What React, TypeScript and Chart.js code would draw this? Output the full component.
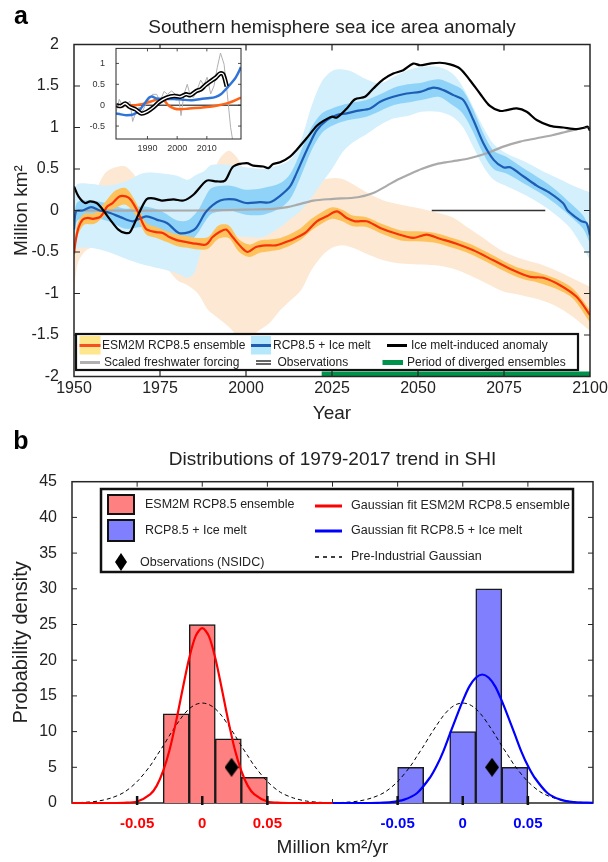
import React, { useEffect, useRef } from "react";
import { Chart, registerables } from "chart.js";
Chart.register(...registerables);

const FONT = '"Liberation Sans", Arial, sans-serif';
const TEXT = "#222";
const AXIS = "#262626";

// ---------------- Panel a data ----------------
const aXTicks = [1950, 1975, 2000, 2025, 2050, 2075, 2100];
const aYTicks = [-2, -1.5, -1, -0.5, 0, 0.5, 1, 1.5, 2];

// ESM2M RCP8.5 ensemble bands
const redBandYears = [1950, 1951, 1953, 1956, 1959, 1962, 1965, 1968, 1971, 1974, 1977, 1980, 1983, 1986, 1989, 1992, 1995, 1998, 2001, 2004, 2007, 2010, 2013, 2016, 2019, 2022, 2025, 2028, 2031, 2035, 2040, 2045, 2050, 2055, 2060, 2065, 2070, 2075, 2080, 2085, 2090, 2095, 2100];
const redOuterLo = [-1.0, -0.65, -0.5, -0.42, -0.3, -0.2, -0.2, -0.35, -0.5, -0.6, -0.7, -0.84, -0.9, -1.0, -1.2, -1.3, -1.4, -1.52, -1.52, -1.44, -1.35, -1.2, -1.08, -0.96, -0.72, -0.55, -0.45, -0.42, -0.45, -0.52, -0.6, -0.64, -0.65, -0.66, -0.7, -0.78, -0.88, -0.98, -1.02, -1.07, -1.15, -1.28, -1.45];
const redOuterHi = [-0.3, -0.1, 0.05, 0.22, 0.45, 0.52, 0.53, 0.4, 0.1, 0.0, -0.05, -0.1, -0.1, 0.05, 0.3, 0.6, 0.72, 0.6, 0.3, 0.15, 0.1, 0.1, 0.12, 0.2, 0.33, 0.37, 0.39, 0.38, 0.32, 0.22, 0.12, 0.07, 0.03, -0.02, -0.08, -0.22, -0.36, -0.5, -0.58, -0.64, -0.72, -0.82, -0.92];
const redInnerLo = [-0.6, -0.32, -0.17, -0.16, -0.06, 0.03, 0.07, -0.06, -0.29, -0.33, -0.38, -0.43, -0.45, -0.47, -0.46, -0.34, -0.33, -0.5, -0.56, -0.51, -0.49, -0.47, -0.42, -0.35, -0.24, -0.16, -0.1, -0.13, -0.19, -0.2, -0.29, -0.36, -0.37, -0.39, -0.45, -0.52, -0.62, -0.73, -0.82, -0.87, -0.94, -1.06, -1.35];
const redInnerHi = [-0.44, -0.16, -0.04, -0.03, 0.1, 0.24, 0.27, 0.1, -0.15, -0.2, -0.25, -0.29, -0.31, -0.33, -0.32, -0.18, -0.18, -0.35, -0.41, -0.36, -0.35, -0.33, -0.28, -0.21, -0.1, -0.02, 0.04, 0.01, -0.06, -0.08, -0.17, -0.24, -0.25, -0.27, -0.33, -0.4, -0.5, -0.61, -0.7, -0.75, -0.82, -0.94, -1.2];

// ESM2M RCP8.5 ensemble mean
const redYears = [1950, 1950.5, 1951.3, 1952.5, 1954, 1955.5, 1957.8, 1959.7, 1961.2, 1963.2, 1965.1, 1966.5, 1968.5, 1970.9, 1973.8, 1975.8, 1977.7, 1980.1, 1982.6, 1985.5, 1988.4, 1990.3, 1992.3, 1994.2, 1996.1, 1998.6, 2000.5, 2002.9, 2005.8, 2008.7, 2011.6, 2014.5, 2017.5, 2020.6, 2023.5, 2026.4, 2029.3, 2031.7, 2035.1, 2039, 2043.8, 2048.6, 2052.5, 2056.4, 2061.2, 2066.1, 2071.9, 2077.7, 2082.6, 2086.4, 2091.3, 2096.1, 2100];
const redMean = [-0.52, -0.36, -0.21, -0.11, -0.09, -0.1, -0.07, 0.05, 0.09, 0.17, 0.17, 0.13, -0.01, -0.22, -0.26, -0.27, -0.32, -0.36, -0.38, -0.4, -0.41, -0.32, -0.26, -0.23, -0.32, -0.44, -0.5, -0.44, -0.42, -0.42, -0.38, -0.33, -0.26, -0.13, -0.07, -0.01, -0.09, -0.13, -0.13, -0.21, -0.28, -0.33, -0.29, -0.34, -0.4, -0.48, -0.6, -0.72, -0.8, -0.81, -0.9, -1.04, -1.26];

// RCP8.5 + Ice melt bands
const blueBandYears = [1950, 1951, 1955, 1960, 1965, 1970, 1975, 1980, 1983, 1985, 1986.5, 1988, 1990, 1995, 2000, 2005, 2010, 2013, 2016, 2019, 2022, 2025, 2028, 2031, 2035, 2039, 2043, 2047, 2051, 2056, 2060, 2063, 2066, 2069, 2072, 2076, 2081, 2086, 2090, 2094, 2098, 2100];
const blueOuterLo = [-0.45, -0.45, -0.45, -0.5, -0.58, -0.65, -0.7, -0.76, -0.81, -0.75, -0.55, -0.35, -0.3, -0.3, -0.32, -0.32, -0.2, -0.1, 0.0, 0.15, 0.33, 0.5, 0.7, 0.82, 0.92, 1.03, 1.11, 1.14, 1.19, 1.19, 1.13, 1.01, 0.77, 0.53, 0.37, 0.29, 0.19, 0.07, -0.05, -0.2, -0.45, -0.6];
const blueOuterHi = [0.2, 0.32, 0.32, 0.3, 0.35, 0.45, 0.45, 0.42, 0.37, 0.42, 0.45, 0.48, 0.55, 0.55, 0.52, 0.5, 0.55, 0.62, 0.85, 1.25, 1.55, 1.68, 1.7, 1.67, 1.58, 1.53, 1.61, 1.69, 1.73, 1.73, 1.65, 1.49, 1.25, 1.0, 0.8, 0.68, 0.59, 0.48, 0.4, 0.32, 0.25, 0.22];
const blueInnerLo = [-0.35, -0.12, -0.08, -0.13, -0.22, -0.2, -0.25, -0.38, -0.37, -0.32, -0.24, -0.14, -0.04, 0.0, -0.05, -0.05, 0.03, 0.15, 0.42, 0.72, 0.93, 1.02, 1.07, 1.1, 1.13, 1.2, 1.27, 1.3, 1.33, 1.37, 1.27, 1.17, 0.95, 0.68, 0.5, 0.44, 0.32, 0.2, 0.08, -0.06, -0.22, -0.4];
const blueInnerHi = [-0.1, 0.1, 0.12, 0.08, 0.02, 0.05, 0.0, -0.12, -0.12, -0.05, 0.03, 0.15, 0.27, 0.3, 0.25, 0.27, 0.33, 0.45, 0.72, 1.0, 1.17, 1.23, 1.27, 1.3, 1.33, 1.4, 1.48, 1.52, 1.54, 1.58, 1.52, 1.45, 1.22, 0.93, 0.72, 0.64, 0.5, 0.37, 0.25, 0.1, -0.06, -0.22];

// RCP8.5 + Ice melt mean
const blueYears = [1950, 1950.6, 1952.5, 1955, 1957.5, 1960.5, 1963.5, 1967, 1971, 1974, 1977, 1980.5, 1983.5, 1985.5, 1988.5, 1992.5, 1996.5, 2000, 2004, 2007, 2010, 2012.8, 2014.7, 2016.6, 2018.6, 2020.6, 2023.5, 2026.4, 2029.3, 2032.2, 2036.1, 2039, 2042.8, 2046.7, 2050.6, 2054.5, 2057.4, 2060.3, 2063.2, 2066.1, 2069, 2072, 2074.8, 2076.8, 2080.7, 2084.5, 2088.4, 2092.2, 2093.5, 2096.1, 2097.5, 2099, 2100];
const blueMean = [-0.23, -0.01, 0.0, 0.04, 0.0, -0.03, -0.08, -0.13, -0.07, -0.11, -0.15, -0.27, -0.26, -0.21, -0.01, 0.12, 0.135, 0.09, 0.1, 0.1, 0.18, 0.29, 0.45, 0.63, 0.81, 0.97, 1.09, 1.15, 1.17, 1.2, 1.23, 1.31, 1.37, 1.41, 1.43, 1.48, 1.45, 1.39, 1.33, 1.09, 0.81, 0.61, 0.52, 0.52, 0.41, 0.3, 0.21, 0.087, 0.0, -0.09, -0.13, -0.15, -0.3];

// Ice melt-induced anomaly
const blackYears = [1950, 1951.3, 1953.2, 1954.7, 1956.6, 1958, 1960.5, 1962.9, 1964.8, 1966.3, 1968.7, 1971.1, 1973, 1975.5, 1978.9, 1981.8, 1984.7, 1988.6, 1991.5, 1993.9, 1996.3, 2000.2, 2002.1, 2005, 2006.5, 2007.9, 2009.9, 2012.8, 2014.7, 2017.6, 2020.6, 2022.5, 2024.9, 2026.4, 2029.3, 2031.7, 2034.6, 2037, 2039.9, 2042.8, 2045.7, 2048.6, 2050.6, 2053.5, 2056.4, 2059.3, 2062.2, 2065.1, 2068, 2070.9, 2073.8, 2075.8, 2078.7, 2081.6, 2084.5, 2088.4, 2092.2, 2096.1, 2098.5, 2099.3, 2100];
const blackVals = [0.29, 0.17, 0.09, 0.11, 0.09, 0.03, -0.11, -0.23, -0.27, -0.26, -0.05, 0.135, 0.147, 0.12, 0.135, 0.12, 0.19, 0.36, 0.35, 0.36, 0.53, 0.57, 0.54, 0.53, 0.51, 0.56, 0.58, 0.65, 0.73, 0.87, 1.02, 1.08, 1.13, 1.12, 1.23, 1.34, 1.37, 1.47, 1.58, 1.65, 1.69, 1.77, 1.75, 1.77, 1.78, 1.76, 1.71, 1.57, 1.41, 1.26, 1.2, 1.21, 1.23, 1.19, 1.09, 1.02, 1.0, 0.98, 1.0, 1.01, 0.96];

// Scaled freshwater forcing
const greyYears = [1950, 1985, 1995, 2000, 2008, 2012, 2015, 2019.6, 2025.4, 2032.5, 2037, 2041, 2044, 2047.7, 2051, 2054.5, 2058, 2061.2, 2065, 2070, 2074.8, 2079.7, 2084.5, 2089.3, 2094.2, 2099, 2100];
const greyVals = [0, 0, 0.005, 0.01, 0.02, 0.04, 0.07, 0.12, 0.14, 0.16, 0.21, 0.3, 0.37, 0.44, 0.5, 0.55, 0.58, 0.6, 0.63, 0.69, 0.77, 0.83, 0.87, 0.91, 0.96, 1.0, 1.0];

const zeroSegYears = [2054, 2087];
const zeroSegVals = [0, 0];
const divergedYears = [2022, 2100];
const divergedLevel = [-1.97, -1.97];

// ---------------- Inset data ----------------
const insetXTicks = [1990, 2000, 2010];
const insetYTicks = [-0.5, 0, 0.5, 1];
const insetRcpYears = [1979.4, 1983, 1986, 1988, 1990, 1992, 1994, 1995.5, 1997, 1999, 2001, 2004, 2008, 2011, 2014, 2017, 2019, 2021.5];
const insetRcpVals = [0, 0, 0, 0.02, 0.06, 0.11, 0.14, 0.12, 0.0, -0.08, -0.1, -0.08, -0.06, -0.04, 0.0, 0.05, 0.1, 0.18];
const insetIceYears = [1979.4, 1981, 1983, 1985.3, 1987.5, 1989.2, 1990.5, 1991.5, 1993, 1996, 1999, 2002, 2005, 2008, 2011, 2013, 2014.7, 2016.9, 2019.7, 2021.5];
const insetIceVals = [-0.2, -0.22, -0.24, -0.22, -0.1, 0.06, 0.18, 0.21, 0.16, 0.15, 0.15, 0.13, 0.12, 0.15, 0.17, 0.2, 0.26, 0.42, 0.66, 0.91];
const insetObsYears = [1979.4, 1980.5, 1981.9, 1983, 1984.1, 1985, 1986.1, 1987.2, 1988.4, 1989.5, 1990.6, 1991.7, 1993.1, 1994.2, 1995.6, 1996.7, 1998.1, 1999.3, 2000.4, 2001.3, 2002.3, 2003.4, 2004.3, 2005.4, 2006.6, 2007.9, 2009, 2010.1, 2011.3, 2012.4, 2013.5, 2014.6, 2015.8, 2016.9, 2018, 2018.9];
const insetObsVals = [-0.17, 0.14, -0.06, 0.04, 0.09, -0.39, -0.17, -0.04, -0.14, 0.04, 0.14, 0.26, 0.26, 0.09, 0.33, 0.26, 0.34, 0.27, 0.26, -0.25, 0.26, 0.5, 0.26, 0.18, 0.34, 0.6, 0.48, 0.67, 0.27, 0.46, 0.9, 1.25, 0.98, 0.26, -0.53, -0.93];
const insetSmoothYears = [1979.5, 1981, 1982.5, 1984, 1986, 1988, 1990, 1992, 1994, 1996.5, 1999, 2001, 2003, 2004.5, 2006.5, 2008, 2009.5, 2011, 2013, 2014.5, 2015.5, 2016.7];
const insetSmoothVals = [0.0, -0.02, 0.04, -0.04, -0.1, -0.2, -0.15, -0.05, 0.08, 0.18, 0.22, 0.2, 0.26, 0.24, 0.34, 0.38, 0.48, 0.56, 0.66, 0.76, 0.74, 0.45];

// ---------------- Panel b data ----------------
const bYTicks = [0, 5, 10, 15, 20, 25, 30, 35, 40, 45];
const bXTickLabels = [-0.05, 0, 0.05];
const bBinCenters = [-0.04, -0.02, 0, 0.02, 0.04];
const bEsmHist = [0, 12.5, 25, 9, 3.6];
const bIceHist = [5, 0, 10, 30, 5];
const bEsmFitX = [-0.1, -0.08, -0.06, -0.05, -0.04, -0.035, -0.03, -0.025, -0.02, -0.015, -0.01, -0.005, 0, 0.005, 0.01, 0.015, 0.02, 0.025, 0.03, 0.035, 0.04, 0.05, 0.06, 0.08, 0.1];
const bEsmFitY = [0, 0, 0.03, 0.2, 1.2, 2.4, 4.5, 7.5, 11.5, 16.0, 20.3, 23.4, 24.5, 23.4, 20.3, 16.0, 11.5, 7.5, 4.5, 2.4, 1.2, 0.2, 0.03, 0, 0];
const bIceFitX = [-0.1, -0.08, -0.065, -0.055, -0.045, -0.035, -0.025, -0.02, -0.015, -0.01, -0.005, 0, 0.005, 0.01, 0.015, 0.02, 0.025, 0.03, 0.035, 0.04, 0.045, 0.05, 0.055, 0.065, 0.075, 0.085, 0.1];
const bIceFitY = [0, 0, 0.03, 0.12, 0.47, 1.4, 3.6, 5.2, 7.2, 9.6, 12.0, 14.3, 16.3, 17.55, 18, 17.55, 16.3, 14.3, 12.0, 9.6, 7.2, 5.2, 3.6, 1.4, 0.47, 0.12, 0.02];
const bPiX = [-0.1, -0.09, -0.08, -0.07, -0.06, -0.05, -0.04, -0.035, -0.03, -0.025, -0.02, -0.015, -0.01, -0.005, 0, 0.005, 0.01, 0.015, 0.02, 0.025, 0.03, 0.035, 0.04, 0.05, 0.06, 0.07, 0.08, 0.09, 0.1];
const bPiY = [0.03, 0.1, 0.27, 0.7, 1.5, 3.0, 5.2, 6.6, 8.0, 9.5, 10.9, 12.2, 13.2, 13.8, 14, 13.8, 13.2, 12.2, 10.9, 9.5, 8.0, 6.6, 5.2, 3.0, 1.5, 0.7, 0.27, 0.1, 0.03];
const bObsTrend = 0.0225;
const bObsMarkerLevel = 5;

// left half of panel b shows [-0.1, 0.1] at axis units [0, 0.2]; right half at [0.2, 0.4]
const LEFT = 0.1;
const RIGHT = 0.3;

const pts = (xs: number[], ys: number[], shift = 0) => xs.map((x, i) => ({ x: x + shift, y: ys[i] }));

function bandPair(xs: number[], lo: number[], hi: number[], color: string, order: number) {
  return [
    { data: pts(xs, lo), borderColor: "rgba(0,0,0,0)", borderWidth: 0, fill: false, order, tension: 0.3 },
    { data: pts(xs, hi), borderColor: "rgba(0,0,0,0)", borderWidth: 0, backgroundColor: color, fill: "-1", order, tension: 0.3 },
  ];
}

function drawBox(ctx: CanvasRenderingContext2D, chart: any, lw: number) {
  const { left, right, top, bottom } = chart.chartArea;
  ctx.save();
  ctx.strokeStyle = AXIS;
  ctx.lineWidth = lw;
  ctx.strokeRect(left, top, right - left, bottom - top);
  ctx.restore();
}

function inwardTicks(ctx: CanvasRenderingContext2D, chart: any, xs: number[], ys: number[], len: number, lw: number) {
  const { left, right, top, bottom } = chart.chartArea;
  const sx = chart.scales.x, sy = chart.scales.y;
  ctx.save();
  ctx.strokeStyle = AXIS;
  ctx.lineWidth = lw;
  ctx.beginPath();
  xs.forEach((v) => {
    const p = sx.getPixelForValue(v);
    ctx.moveTo(p, bottom); ctx.lineTo(p, bottom - len);
    ctx.moveTo(p, top); ctx.lineTo(p, top + len);
  });
  ys.forEach((v) => {
    const p = sy.getPixelForValue(v);
    ctx.moveTo(left, p); ctx.lineTo(left + len, p);
    ctx.moveTo(right, p); ctx.lineTo(right - len, p);
  });
  ctx.stroke();
  ctx.restore();
}

function text(ctx: CanvasRenderingContext2D, s: string, x: number, y: number, font: string, align: CanvasTextAlign = "left", color = TEXT, rot = 0) {
  ctx.save();
  ctx.font = font;
  ctx.fillStyle = color;
  ctx.textAlign = align;
  ctx.textBaseline = "middle";
  ctx.translate(x, y);
  if (rot) ctx.rotate(rot);
  ctx.fillText(s, 0, 0);
  ctx.restore();
}

function line(ctx: CanvasRenderingContext2D, x1: number, y1: number, x2: number, y2: number, color: string, w: number, dash: number[] = []) {
  ctx.save();
  ctx.strokeStyle = color;
  ctx.lineWidth = w;
  ctx.setLineDash(dash);
  ctx.beginPath();
  ctx.moveTo(x1, y1);
  ctx.lineTo(x2, y2);
  ctx.stroke();
  ctx.restore();
}

const panelAPlugin = {
  id: "panelA",
  afterDatasetsDraw(chart: any) {
    const ctx = chart.ctx;
    const interiorX = aXTicks.slice(1, -1);
    const interiorY = aYTicks.slice(1, -1);
    inwardTicks(ctx, chart, interiorX, interiorY, 6, 1.2);
    drawBox(ctx, chart, 1.5);
    // legend
    const f = `12px ${FONT}`;
    ctx.save();
    ctx.fillStyle = "#fff";
    ctx.fillRect(76, 334, 502, 36);
    ctx.lineWidth = 2.2;
    ctx.strokeStyle = "#111";
    ctx.strokeRect(76, 334, 502, 36);
    ctx.restore();
    const r1 = 345.5, r2 = 362.5;
    ctx.fillStyle = "#fde68c"; ctx.fillRect(79.5, 336, 21, 18.5);
    line(ctx, 79.5, r1, 100.5, r1, "#f4511e", 3);
    text(ctx, "ESM2M RCP8.5 ensemble", 102, r1, f);
    ctx.fillStyle = "#b5e8fb"; ctx.fillRect(251, 336, 20, 18.5);
    line(ctx, 251, r1, 271, r1, "#1d5db4", 3);
    text(ctx, "RCP8.5 + Ice melt", 273, r1, f);
    line(ctx, 387, r1, 407, r1, "#000", 3);
    text(ctx, "Ice melt-induced anomaly", 411, r1, f);
    line(ctx, 80, r2, 100, r2, "#b0b0b0", 3);
    text(ctx, "Scaled freshwater forcing", 104, r2, f);
    line(ctx, 256, r2 - 1.5, 271, r2 - 1.5, "#000", 1.2);
    line(ctx, 256, r2 + 1.5, 271, r2 + 1.5, "#000", 1.2);
    text(ctx, "Observations", 277.5, r2, f);
    ctx.fillStyle = "#00914a"; ctx.fillRect(382.5, r2 - 2.5, 20.5, 5);
    text(ctx, "Period of diverged ensembles", 407, r2, f);
  },
  afterDraw(chart: any) {
    const ctx = chart.ctx;
    const { left, right, top, bottom } = chart.chartArea;
    const cx = (left + right) / 2;
    text(ctx, "a", 21, 17, `bold 25px ${FONT}`, "center", "#000");
    text(ctx, "Southern hemisphere sea ice area anomaly", cx, 27.5, `19px ${FONT}`, "center");
    text(ctx, "Million km²", 22, (top + bottom) / 2, `19px ${FONT}`, "center", TEXT, -Math.PI / 2);
    text(ctx, "Year", cx, 414, `19px ${FONT}`, "center");
  },
};

const insetPlugin = {
  id: "inset",
  beforeDatasetsDraw(chart: any) {
    const { left, right, top, bottom } = chart.chartArea;
    chart.ctx.save();
    chart.ctx.fillStyle = "#fff";
    chart.ctx.fillRect(left, top, right - left, bottom - top);
    chart.ctx.restore();
  },
  afterDatasetsDraw(chart: any) {
    inwardTicks(chart.ctx, chart, insetXTicks, insetYTicks, 3, 0.8);
    drawBox(chart.ctx, chart, 1);
  },
};

const panelBPlugin = {
  id: "panelB",
  beforeDatasetsDraw(chart: any) {
    const ctx = chart.ctx;
    const { left, right, top, bottom } = chart.chartArea;
    const sx = chart.scales.x, sy = chart.scales.y;
    drawBox(ctx, chart, 1.5);
    ctx.save();
    ctx.strokeStyle = AXIS;
    ctx.lineWidth = 1;
    ctx.beginPath();
    [LEFT, RIGHT].forEach((c) => [-0.05, 0, 0.05].forEach((v) => {
      const p = sx.getPixelForValue(c + v);
      ctx.moveTo(p, top); ctx.lineTo(p, top + 5);
    }));
    const mid = sx.getPixelForValue((LEFT + RIGHT) / 2);
    ctx.moveTo(mid, top); ctx.lineTo(mid, top + 5);
    ctx.moveTo(mid, bottom); ctx.lineTo(mid, bottom - 4);
    bYTicks.slice(1, -1).forEach((v) => {
      const p = sy.getPixelForValue(v);
      ctx.moveTo(left, p); ctx.lineTo(left + 5, p);
      ctx.moveTo(right, p); ctx.lineTo(right - 5, p);
    });
    ctx.stroke();
    ctx.restore();
  },
  afterDatasetsDraw(chart: any) {
    const ctx = chart.ctx;
    const { bottom } = chart.chartArea;
    const sx = chart.scales.x;
    ctx.save();
    ctx.strokeStyle = "#111";
    ctx.lineWidth = 2.5;
    ctx.beginPath();
    [LEFT, RIGHT].forEach((c) => bXTickLabels.forEach((v) => {
      const p = sx.getPixelForValue(c + v);
      ctx.moveTo(p, bottom + 2); ctx.lineTo(p, bottom - 7);
    }));
    ctx.stroke();
    ctx.restore();
    // legend
    const f = `12.5px ${FONT}`;
    ctx.save();
    ctx.fillStyle = "#fff";
    ctx.fillRect(101, 64, 472, 83);
    ctx.lineWidth = 2.5;
    ctx.strokeStyle = "#111";
    ctx.strokeRect(101, 64, 472, 83);
    ctx.lineWidth = 2;
    ctx.fillStyle = "#ff8080"; ctx.fillRect(108, 70, 26, 19); ctx.strokeRect(108, 70, 26, 19);
    ctx.fillStyle = "#8080ff"; ctx.fillRect(108, 95, 26, 21); ctx.strokeRect(108, 95, 26, 21);
    ctx.fillStyle = "#000";
    ctx.beginPath();
    ctx.moveTo(121, 128); ctx.lineTo(127, 137); ctx.lineTo(121, 146); ctx.lineTo(115, 137); ctx.closePath();
    ctx.fill();
    ctx.restore();
    text(ctx, "ESM2M RCP8.5 ensemble", 145, 79.5, f);
    text(ctx, "RCP8.5 + Ice melt", 145, 105.5, f);
    text(ctx, "Observations (NSIDC)", 140, 138, f);
    line(ctx, 315, 81, 342, 81, "#ff0000", 3);
    text(ctx, "Gaussian fit ESM2M RCP8.5 ensemble", 351, 81, f);
    line(ctx, 315, 106, 342, 106, "#0000ff", 3);
    text(ctx, "Gaussian fit RCP8.5 + Ice melt", 351, 106, f);
    line(ctx, 315, 132, 342, 132, "#000", 1.5, [4, 4]);
    text(ctx, "Pre-Industrial Gaussian", 351, 132, f);
  },
  afterDraw(chart: any) {
    const ctx = chart.ctx;
    const { left, right, top, bottom } = chart.chartArea;
    const cx = (left + right) / 2;
    text(ctx, "b", 21, 17, `bold 25px ${FONT}`, "center", "#000");
    text(ctx, "Distributions of 1979-2017 trend in SHI", cx, 35, `19px ${FONT}`, "center");
    text(ctx, "Probability density", 21, (top + bottom) / 2, `20px ${FONT}`, "center", TEXT, -Math.PI / 2);
    text(ctx, "Million km²/yr", cx, 423, `19px ${FONT}`, "center");
  },
};

function makeDiamond(w: number, h: number) {
  const c = document.createElement("canvas");
  c.width = w; c.height = h;
  const g = c.getContext("2d")!;
  g.fillStyle = "#000";
  g.beginPath();
  g.moveTo(w / 2, 0); g.lineTo(w, h / 2); g.lineTo(w / 2, h); g.lineTo(0, h / 2);
  g.closePath(); g.fill();
  return c;
}

export default function App() {
  const aRef = useRef<HTMLCanvasElement>(null);
  const insetRef = useRef<HTMLCanvasElement>(null);
  const bRef = useRef<HTMLCanvasElement>(null);

  useEffect(() => {
    const tickFont = { family: FONT, size: 16 };

    const chartA = new Chart(aRef.current!, {
      type: "line",
      data: {
        datasets: [
          ...bandPair(redBandYears, redOuterLo, redOuterHi, "#fde9d3", 100),
          ...bandPair(blueBandYears, blueOuterLo, blueOuterHi, "#d3f0fc", 90),
          ...bandPair(blueBandYears, blueInnerLo, blueInnerHi, "#90d3f8", 80),
          ...bandPair(redBandYears, redInnerLo, redInnerHi, "#fdc25c", 70),
          { data: pts(greyYears, greyVals), borderColor: "#aaaaaa", borderWidth: 2.2, order: 60, tension: 0.3 },
          { data: pts(zeroSegYears, zeroSegVals), borderColor: "#333", borderWidth: 1.5, order: 55 },
          { data: pts(blueYears, blueMean), borderColor: "#1d5db4", borderWidth: 2.2, order: 50, tension: 0.3 },
          { data: pts(redYears, redMean), borderColor: "#f5320a", borderWidth: 2.2, order: 40, tension: 0.3 },
          { data: pts(blackYears, blackVals), borderColor: "#000", borderWidth: 2.2, order: 30, tension: 0.3 },
          { data: pts(divergedYears, divergedLevel), borderColor: "#00914a", borderWidth: 5, order: 20, clip: false },
        ] as any,
      },
      options: {
        animation: false,
        responsive: false,
        maintainAspectRatio: false,
        layout: { padding: { top: 44.5, right: 18, bottom: 18.5, left: 0 } },
        plugins: { legend: { display: false }, tooltip: { enabled: false } },
        elements: { point: { radius: 0 } },
        scales: {
          x: {
            type: "linear", min: 1950, max: 2100,
            grid: { display: false }, border: { display: false },
            afterBuildTicks: (s: any) => { s.ticks = aXTicks.map((v) => ({ value: v })); },
            afterFit: (s: any) => { s.height = 30; },
            ticks: { font: tickFont, color: TEXT, padding: -6, maxRotation: 0, autoSkip: false, callback: (v: any) => String(v) },
          },
          y: {
            type: "linear", min: -2, max: 2,
            grid: { display: false }, border: { display: false },
            afterBuildTicks: (s: any) => { s.ticks = aYTicks.map((v) => ({ value: v })); },
            afterFit: (s: any) => { s.width = 74; },
            ticks: { font: tickFont, color: TEXT, padding: 7, callback: (v: any) => String(v) },
          },
        },
      } as any,
      plugins: [panelAPlugin],
    });

    const insetFont = { family: FONT, size: 9 };
    const chartInset = new Chart(insetRef.current!, {
      type: "line",
      data: {
        datasets: [
          { data: pts(insetSmoothYears, insetSmoothVals), borderColor: "#fff", borderWidth: 1.3, order: 1, tension: 0.3 },
          { data: pts(insetSmoothYears, insetSmoothVals), borderColor: "#000", borderWidth: 4.5, order: 2, tension: 0.3 },
          { data: pts(insetIceYears, insetIceVals), borderColor: "#2f74d8", borderWidth: 2.5, order: 3, tension: 0.3 },
          { data: pts(insetRcpYears, insetRcpVals), borderColor: "#ff6417", borderWidth: 2.5, order: 4, tension: 0.3 },
          { data: pts(insetObsYears, insetObsVals), borderColor: "#b0b0b0", borderWidth: 1, order: 5 },
          { data: [{ x: 1979.4, y: 0 }, { x: 2021.5, y: 0 }], borderColor: "#000", borderWidth: 1, order: 6 },
        ] as any,
      },
      options: {
        animation: false,
        responsive: false,
        maintainAspectRatio: false,
        layout: { padding: { top: 8, right: 5, bottom: 0, left: 0 } },
        plugins: { legend: { display: false }, tooltip: { enabled: false } },
        elements: { point: { radius: 0 } },
        scales: {
          x: {
            type: "linear", min: 1979.4, max: 2021.5,
            grid: { display: false }, border: { display: false },
            afterBuildTicks: (s: any) => { s.ticks = insetXTicks.map((v) => ({ value: v })); },
            afterFit: (s: any) => { s.height = 16; },
            ticks: { font: insetFont, color: "#333", padding: -4, maxRotation: 0, autoSkip: false, callback: (v: any) => String(v) },
          },
          y: {
            type: "linear", min: -0.81, max: 1.36,
            grid: { display: false }, border: { display: false },
            afterBuildTicks: (s: any) => { s.ticks = insetYTicks.map((v) => ({ value: v })); },
            afterFit: (s: any) => { s.width = 26; },
            ticks: { font: insetFont, color: "#333", padding: 3, callback: (v: any) => String(v) },
          },
        },
      } as any,
      plugins: [insetPlugin],
    });

    const diamond = makeDiamond(14, 19);
    const histData = [
      ...bBinCenters.map((c, i) => ({ x: c + LEFT, y: bEsmHist[i] })),
      ...bBinCenters.map((c, i) => ({ x: c + RIGHT, y: bIceHist[i] })),
    ];
    const histColors = [...bBinCenters.map(() => "#ff8080"), ...bBinCenters.map(() => "#8080ff")];

    const chartB = new Chart(bRef.current!, {
      type: "bar",
      data: {
        datasets: [
          { type: "bar", data: histData, backgroundColor: histColors, borderColor: "#1a1a1a", borderWidth: 1.5, barPercentage: 1, categoryPercentage: 1, grouped: false, order: 10 },
          { type: "line", data: pts(bPiX, bPiY, LEFT), borderColor: "#000", borderWidth: 1, borderDash: [4, 3], order: 5, tension: 0.3, pointRadius: 0 },
          { type: "line", data: pts(bPiX, bPiY, RIGHT), borderColor: "#000", borderWidth: 1, borderDash: [4, 3], order: 5, tension: 0.3, pointRadius: 0 },
          { type: "line", data: pts(bEsmFitX, bEsmFitY, LEFT), borderColor: "#ff0000", borderWidth: 2.2, order: 4, tension: 0.3, pointRadius: 0, clip: 3 },
          { type: "line", data: pts(bIceFitX, bIceFitY, RIGHT), borderColor: "#0000ff", borderWidth: 2.2, order: 4, tension: 0.3, pointRadius: 0, clip: 3 },
          { type: "line", data: [{ x: bObsTrend + LEFT, y: bObsMarkerLevel }, { x: bObsTrend + RIGHT, y: bObsMarkerLevel }], showLine: false, pointStyle: diamond, pointRadius: 8, order: 0 },
        ] as any,
      },
      options: {
        animation: false,
        responsive: false,
        maintainAspectRatio: false,
        layout: { padding: { top: 56.7, right: 15, bottom: 19, left: 0 } },
        plugins: { legend: { display: false }, tooltip: { enabled: false } },
        scales: {
          x: {
            type: "linear", min: 0, max: 0.4, offset: false,
            grid: { display: false }, border: { display: false },
            afterBuildTicks: (s: any) => {
              s.ticks = [...bXTickLabels.map((v) => ({ value: v + LEFT })), ...bXTickLabels.map((v) => ({ value: v + RIGHT }))];
            },
            afterFit: (s: any) => { s.height = 40; },
            ticks: {
              font: { family: FONT, size: 15, weight: "bold" },
              color: (c: any) => (c.tick && c.tick.value < (LEFT + RIGHT) / 2 ? "#ff0000" : "#0000ff"),
              padding: 3.5, maxRotation: 0, autoSkip: false,
              callback: (v: any) => {
                const base = v < (LEFT + RIGHT) / 2 ? LEFT : RIGHT;
                return String(Math.round((v - base) * 100) / 100);
              },
            },
          },
          y: {
            type: "linear", min: 0, max: 45,
            grid: { display: false }, border: { display: false },
            afterBuildTicks: (s: any) => { s.ticks = bYTicks.map((v) => ({ value: v })); },
            afterFit: (s: any) => { s.width = 72; },
            ticks: { font: tickFont, color: TEXT, padding: 7, callback: (v: any) => String(v) },
          },
        },
      } as any,
      plugins: [panelBPlugin],
    });

    return () => {
      chartA.destroy();
      chartInset.destroy();
      chartB.destroy();
    };
  }, []);

  return (
    <div style={{ position: "absolute", left: 0, top: 0, width: 608, height: 862, background: "#fff", overflow: "hidden" }}>
      <canvas ref={aRef} width={608} height={425} style={{ position: "absolute", left: 0, top: 0 }} />
      <canvas ref={bRef} width={608} height={437} style={{ position: "absolute", left: 0, top: 425 }} />
      <canvas ref={insetRef} width={156} height={115} style={{ position: "absolute", left: 90, top: 40 }} />
    </div>
  );
}
